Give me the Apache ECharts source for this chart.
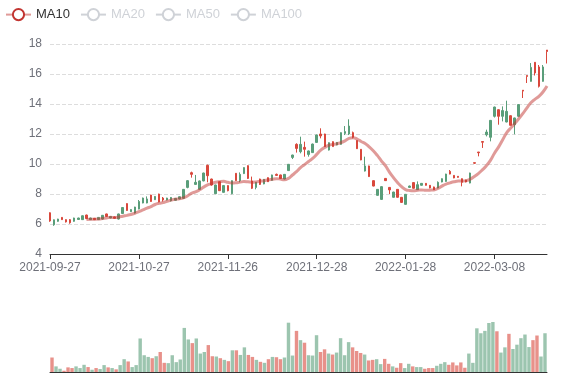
<!DOCTYPE html>
<html><head><meta charset="utf-8">
<script src="https://cdn.jsdelivr.net/npm/echarts@6/dist/echarts.min.js"></script>
<style>html,body{margin:0;padding:0;background:#fff}#c{width:577px;height:380px}</style>
</head><body><div id="c"></div>
<script>
var dates = ['2021-09-27','2021-09-28','2021-09-29','2021-09-30','2021-10-01','2021-10-04','2021-10-05','2021-10-06','2021-10-07','2021-10-08','2021-10-11','2021-10-12','2021-10-13','2021-10-14','2021-10-15','2021-10-18','2021-10-19','2021-10-20','2021-10-21','2021-10-22','2021-10-25','2021-10-26','2021-10-27','2021-10-28','2021-10-29','2021-11-01','2021-11-02','2021-11-03','2021-11-04','2021-11-05','2021-11-08','2021-11-09','2021-11-10','2021-11-11','2021-11-12','2021-11-15','2021-11-16','2021-11-17','2021-11-18','2021-11-19','2021-11-22','2021-11-23','2021-11-24','2021-11-25','2021-11-26','2021-11-29','2021-11-30','2021-12-01','2021-12-02','2021-12-03','2021-12-06','2021-12-07','2021-12-08','2021-12-09','2021-12-10','2021-12-13','2021-12-14','2021-12-15','2021-12-16','2021-12-17','2021-12-20','2021-12-21','2021-12-22','2021-12-23','2021-12-24','2021-12-27','2021-12-28','2021-12-29','2021-12-30','2021-12-31','2022-01-04','2022-01-05','2022-01-06','2022-01-07','2022-01-10','2022-01-11','2022-01-12','2022-01-13','2022-01-14','2022-01-17','2022-01-18','2022-01-19','2022-01-20','2022-01-21','2022-01-24','2022-01-25','2022-01-26','2022-01-27','2022-01-28','2022-02-07','2022-02-08','2022-02-09','2022-02-10','2022-02-11','2022-02-14','2022-02-15','2022-02-16','2022-02-17','2022-02-18','2022-02-21','2022-02-22','2022-02-23','2022-02-24','2022-02-25','2022-02-28','2022-03-01','2022-03-02','2022-03-03','2022-03-04','2022-03-07','2022-03-08','2022-03-09','2022-03-10','2022-03-11','2022-03-14','2022-03-15','2022-03-16','2022-03-17','2022-03-18','2022-03-21','2022-03-22','2022-03-23','2022-03-24','2022-03-25'];

// [open, close, low, high]
var ohlc = [
[6.75,6.2,6.15,6.78],[5.95,6.28,5.88,6.3],[6.18,6.33,6.15,6.35],[6.44,6.29,6.27,6.46],[6.29,6.14,6.1,6.31],
[6.29,6.08,6.02,6.33],[6.18,6.4,6.15,6.42],[6.3,6.4,6.28,6.42],[6.29,6.55,6.27,6.57],[6.6,6.36,6.34,6.62],
[6.29,6.4,6.27,6.42],[6.38,6.29,6.27,6.4],[6.29,6.44,6.27,6.46],[6.33,6.58,6.3,6.6],[6.67,6.5,6.48,6.69],
[6.4,6.5,6.38,6.52],[6.47,6.38,6.36,6.49],[6.33,6.67,6.3,6.69],[6.7,7.1,6.68,7.12],[7.36,6.9,6.88,7.38],
[6.82,6.96,6.8,6.98],[6.73,7.13,6.7,7.15],[7.0,7.5,6.98,7.6],[7.4,7.73,7.38,7.76],[7.4,7.67,7.38,7.84],
[7.93,7.5,7.48,7.95],[7.62,7.84,7.6,7.86],[8.0,7.47,7.45,8.02],[7.73,7.6,7.5,7.8],[7.6,7.73,7.58,7.75],
[7.55,7.77,7.5,7.8],[7.58,7.71,7.56,7.73],[7.67,7.82,7.65,7.84],[7.71,8.31,7.69,8.33],[8.44,8.89,8.38,8.93],
[9.42,9.31,9.09,9.49],[8.64,8.78,8.62,9.27],[8.31,8.87,8.28,8.9],[8.87,9.4,8.85,9.42],[9.91,9.22,8.78,9.96],
[9.0,8.6,8.56,9.02],[8.02,8.6,8.0,8.62],[8.82,8.22,8.2,8.84],[8.11,8.56,8.09,8.58],[8.56,8.22,8.18,8.58],
[8.02,8.89,7.98,8.91],[9.38,8.89,8.87,9.4],[8.89,9.31,8.78,9.44],[9.36,9.76,9.33,9.78],[9.89,9.04,9.0,9.91],
[8.87,8.38,8.33,9.16],[8.44,8.78,8.31,8.8],[9.0,8.64,8.6,9.02],[8.67,8.98,8.65,9.0],[9.09,8.82,8.8,9.11],
[8.91,9.27,8.89,9.29],[9.31,9.24,9.2,9.36],[9.27,9.04,9.02,9.29],[9.0,9.31,8.98,9.33],[9.56,9.98,9.54,10.0],
[10.44,10.6,10.33,10.62],[11.31,11.04,10.76,11.38],[10.82,11.31,10.71,11.82],[11.11,10.98,10.49,11.49],[10.64,10.87,10.49,10.9],
[10.76,11.33,10.74,11.36],[11.44,11.93,11.42,11.96],[12.0,11.87,11.71,12.38],[12.0,11.16,11.14,12.02],[10.93,11.42,10.9,11.44],
[11.49,11.16,11.14,11.51],[11.27,11.44,11.25,11.46],[11.31,12.09,11.29,12.11],[12.04,12.16,11.93,12.53],[12.0,12.53,11.93,12.98],
[12.09,11.78,11.71,12.16],[11.56,11.02,11.0,11.58],[10.98,10.27,10.25,11.0],[9.53,9.87,9.5,10.49],[9.87,9.16,9.14,9.89],
[8.89,8.53,8.51,8.91],[7.91,8.31,7.89,8.33],[7.64,8.49,7.6,8.51],[9.04,8.89,8.87,9.06],[8.44,8.27,8.0,8.46],
[7.78,8.13,7.76,8.15],[8.31,7.78,7.76,8.33],[7.78,7.44,7.42,7.8],[7.31,7.98,7.29,8.0],[8.44,8.53,8.4,8.56],
[8.76,8.38,8.36,8.78],[8.29,8.62,8.27,8.84],[8.58,8.71,8.56,8.73],[8.71,8.58,8.56,8.73],[8.58,8.4,8.38,8.6],
[8.47,8.29,8.27,8.49],[8.4,8.78,8.38,8.84],[8.8,9.02,8.78,9.04],[8.84,9.33,8.82,9.35],[9.51,9.33,9.31,9.6],
[9.24,9.07,9.05,9.26],[9.18,9.11,9.09,9.2],[9.02,8.78,8.51,9.04],[8.93,8.8,8.78,8.95],[8.73,9.4,8.71,9.42],
[10.09,10.05,10.0,10.09],[10.8,10.75,10.51,10.8],[11.5,11.45,11.07,11.5],[11.95,12.13,11.84,12.29],[11.78,12.91,11.51,12.93],
[13.18,13.8,13.1,13.82],[13.62,13.18,12.62,13.64],[13.18,13.56,12.84,13.84],[12.8,13.51,12.78,14.22],[13.22,12.58,12.56,13.24],
[12.62,13.07,11.98,13.09],[13.18,13.96,13.16,13.98],[14.92,14.86,14.4,14.92],[15.9,15.84,15.4,15.9],[15.51,16.44,15.49,16.73],
[16.78,16.07,15.9,16.8],[16.47,15.18,15.1,16.6],[15.51,16.47,15.49,16.6],[17.6,17.5,16.7,17.6]
];

var volumes = [147,57,33,13,47,40,57,40,73,50,23,40,30,70,47,40,27,70,130,107,50,70,340,170,153,140,160,203,93,90,170,100,127,447,330,293,340,187,203,273,160,157,140,123,110,220,220,173,250,173,153,123,103,93,130,153,150,130,147,500,167,417,323,297,170,167,373,203,230,187,177,197,343,170,303,250,213,193,177,117,123,130,80,133,83,57,43,90,40,83,57,50,50,33,40,40,63,83,100,73,97,67,97,43,187,93,443,393,417,497,507,413,197,250,387,233,277,343,380,253,323,370,157,393];

// 1 = rising-day volume bar, 0 = falling-day volume bar (as coloured in the picture)
var volumeUp = [0,1,1,0,0,0,1,1,1,0,1,0,1,1,0,1,0,1,1,0,1,1,1,1,1,0,1,0,0,1,1,1,1,1,1,0,1,1,1,0,0,1,0,1,0,1,0,1,1,0,0,1,0,1,0,1,0,0,1,1,1,0,1,0,1,1,1,0,0,1,0,1,1,1,1,0,0,0,1,0,0,1,1,0,0,1,0,0,1,1,0,1,1,0,0,0,1,1,1,0,0,0,0,0,1,1,1,1,1,1,1,0,1,1,0,1,1,1,1,1,0,0,1,1];

var maNames = ['MA10','MA20','MA50','MA100'];
var maDays = [10,20,50,100];

var UP = '#5a9e7a', DOWN = '#d9483c';

function calcMA(n) {
  var r = [];
  for (var i = 0; i < ohlc.length; i++) {
    if (i < n - 1) { r.push('-'); continue; }
    var s = 0;
    for (var j = 0; j < n; j++) s += ohlc[i - j][1];
    r.push(+(s / n).toFixed(3));
  }
  return r;
}

var volData = volumes.map(function (v, i) {
  return { value: v, itemStyle: { color: volumeUp[i] ? UP : DOWN } };
});

var series = [{
  name: 'K', type: 'candlestick', data: ohlc, barWidth: 2,
  itemStyle: { color: UP, color0: DOWN, borderColor: UP, borderColor0: DOWN }
}];
var maColors = ['#c23531', '#2f4554', '#61a0a8', '#d48265'];
maNames.forEach(function (nm, k) {
  series.push({
    name: nm, type: 'line', data: calcMA(maDays[k]), smooth: true, showSymbol: false,
    color: maColors[k],
    lineStyle: { width: 3, opacity: 0.5 }
  });
});
series.push({
  name: 'Volume', type: 'bar', xAxisIndex: 1, yAxisIndex: 1, data: volData,
  barCategoryGap: '15%', itemStyle: { opacity: 0.6 }
});

var chart = echarts.init(document.getElementById('c'));
chart.setOption({
  animation: false,
  textStyle: { fontFamily: 'sans-serif' },
  legend: {
    data: maNames, left: 0, top: 3, itemGap: 10,
    selected: { MA20: false, MA50: false, MA100: false },
    textStyle: { color: '#333', fontSize: 13 }
  },
  grid: [
    { left: 50, right: 30, top: 44, height: 210 },
    { left: 50, right: 30, top: 322, height: 50 }
  ],
  xAxis: [{
    type: 'category', data: dates, boundaryGap: false,
    axisLine: { lineStyle: { color: '#333' } },
    axisTick: { interval: 21 },
    axisLabel: { interval: 21, color: '#6e7079', fontSize: 12 },
    splitLine: { show: false }
  }, {
    type: 'category', gridIndex: 1, data: dates, boundaryGap: true,
    axisLine: { lineStyle: { color: '#333' } },
    axisTick: { show: false }, axisLabel: { show: false }
  }],
  yAxis: [{
    min: 4, max: 18, interval: 2,
    axisLine: { show: false }, axisTick: { show: false },
    axisLabel: { color: '#6e7079', fontSize: 12 },
    splitLine: { lineStyle: { type: 'dashed', color: '#ddd' } }
  }, {
    gridIndex: 1, min: 0, max: 'dataMax', show: false,
    splitLine: { show: false }
  }],
  series: series
});
</script></body></html>
